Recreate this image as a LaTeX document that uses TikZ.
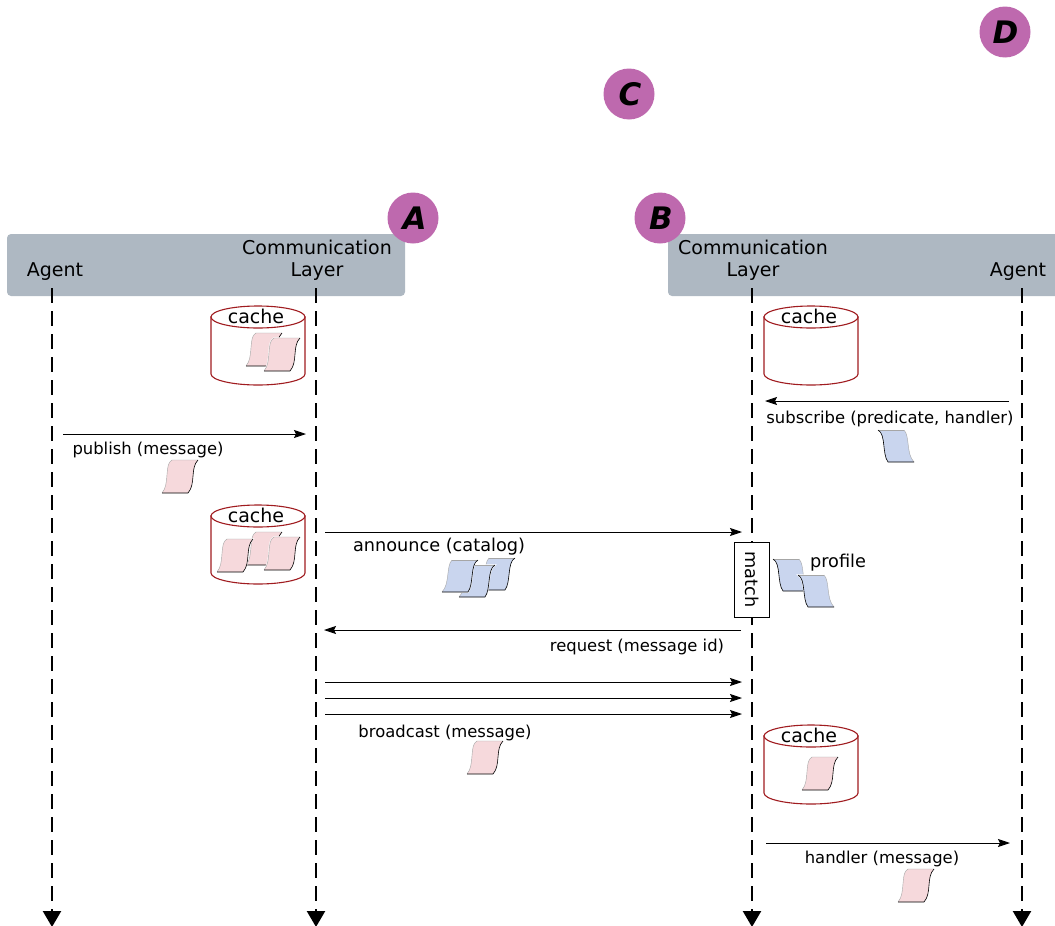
\documentclass[tikz,border=0pt]{standalone}
\usepackage{fontspec}
\setmainfont{DejaVu Sans}
\usetikzlibrary{arrows.meta}
\definecolor{bandc}{HTML}{AEB8C2}
\definecolor{badgec}{HTML}{BE69AE}
\definecolor{pinkc}{HTML}{F6D9DC}
\definecolor{bluec}{HTML}{C9D5EE}
\definecolor{cachec}{HTML}{A01C20}
\tikzset{
 lifeline/.style={line width=2.4pt,dash pattern=on 15pt off 8pt,-{Triangle[length=16pt,width=18pt]}},
 msg/.style={line width=0.9pt,-{Stealth[length=12pt,width=8pt,inset=2pt]}},
 lbl/.style={font=\fontsize{16.4}{18}\selectfont,inner sep=0pt},
 bigl/.style={font=\fontsize{17.7}{18}\selectfont,inner sep=0pt},
 hdr/.style={font=\fontsize{19}{20}\selectfont,inner sep=0pt},
 badge/.style={circle,fill=badgec,minimum size=51pt,inner sep=0pt,font=\fontsize{31}{32}\selectfont\bfseries\itshape},
 band/.style={fill=bandc,rounded corners=4pt},
 cyl/.style={draw=cachec,line width=1.1pt,fill=white}
}
\newcommand{\pinkpage}[2]{%
 \begin{scope}[shift={(#1,#2)},x=1pt,y=-1pt]
  \path[fill=white,draw=white,line width=1.5pt] (10,0) .. controls (2,4) and (8,24) .. (0,33) -- (26,33) .. controls (34,24) and (28,8) .. (36,0) -- cycle;
  \path[fill=pinkc] (10,0) .. controls (2,4) and (8,24) .. (0,33) -- (26,33) .. controls (34,24) and (28,8) .. (36,0) -- cycle;
  \draw[gray!70,line width=0.4pt] (36,0) -- (10,0) .. controls (2,4) and (8,24) .. (0,33);
  \draw[black,line width=0.6pt] (0,33) -- (26,33) .. controls (34,24) and (28,8) .. (36,0);
 \end{scope}}
\newcommand{\bluepage}[2]{%
 \begin{scope}[shift={(#1,#2)},x=1pt,y=-1pt]
  \path[fill=white,draw=white,line width=1.5pt] (0,0) .. controls (8,4) and (4,24) .. (10,32) -- (36,32) .. controls (28,24) and (32,6) .. (26,0) -- cycle;
  \path[fill=bluec] (0,0) .. controls (8,4) and (4,24) .. (10,32) -- (36,32) .. controls (28,24) and (32,6) .. (26,0) -- cycle;
  \draw[gray!70,line width=0.4pt] (26,0) -- (0,0);
  \draw[gray!70,line width=0.4pt] (36,32) .. controls (28,24) and (32,6) .. (26,0);
  \draw[black,line width=0.6pt] (0,0) .. controls (8,4) and (4,24) .. (10,32) -- (36,32);
 \end{scope}}
\newcommand{\cachecyl}[3]{%
 \begin{scope}[shift={(#1,#2)}]
 \path[cyl] (-47,11) -- (-47,68) .. controls (-47,74) and (-26,79) .. (0,79) .. controls (26,79) and (47,74) .. (47,68) -- (47,11) -- cycle;
 \draw[cyl] (0,11) ellipse[x radius=47,y radius=11];
 \node[hdr] (#3) at (-2,10) {cache};
 \end{scope}}
\begin{document}
\begin{tikzpicture}[x=1pt,y=-1pt]
\useasboundingbox (0,0) rectangle (1055,926);
\clip (0,0) rectangle (1055,926);
% bands
\path[band] (7,234) rectangle (405,296);
\path[band] (668,234) rectangle (1070,296);
% badges
\node[badge,text depth=0pt] (A) at (413,218) {\kern3pt A};
\node[badge,text depth=0pt] (B) at (660,218) {\kern2pt B};
\node[badge,text depth=0pt] (C) at (629,94) {\kern2pt C};
\node[badge,text depth=0pt] (D) at (1005,32) {\kern1pt D};
% header text
\node[hdr] (agentL) at (55,272) {Agent};
\node[hdr] (commL) at (317,247.5) {Communication};
\node[hdr] (layerL) at (317,272) {Layer};
\node[hdr] (commR) at (753,247.5) {Communication};
\node[hdr] (layerR) at (753,272) {Layer};
\node[hdr] (agentR) at (1018,272) {Agent};
% lifelines
\coordinate (l1t) at (52,288); \coordinate (l1b) at (52,927);
\coordinate (l2t) at (316,288); \coordinate (l2b) at (316,927);
\coordinate (l3t) at (752,288); \coordinate (l3b) at (752,927);
\coordinate (l4t) at (1022,288); \coordinate (l4b) at (1022,927);
\draw[lifeline] (l1t) -- (l1b);
\draw[lifeline] (l2t) -- (l2b);
\draw[lifeline] (l3t) -- (l3b);
\draw[lifeline] (l4t) -- (l4b);
% caches
\cachecyl{258}{306}{c1}
\cachecyl{258}{505}{c2}
\cachecyl{811}{306}{c3}
\cachecyl{811}{725}{c4}
\pinkpage{246}{333}\pinkpage{264}{338}
\pinkpage{246}{532}\pinkpage{217}{539}\pinkpage{264}{537}
\pinkpage{802}{757}
% messages
\coordinate (m1a) at (63,434); \coordinate (m1b) at (306,434);
\draw[msg] (m1a) -- (m1b);
\node[lbl] (t1) at (148,450) {publish (message)};
\pinkpage{162}{460}
\coordinate (m2a) at (1009,401); \coordinate (m2b) at (765,401);
\draw[msg] (m2a) -- (m2b);
\node[lbl] (t2) at (890,419) {subscribe (predicate, handler)};
\bluepage{878}{430}
\coordinate (m3a) at (325,532); \coordinate (m3b) at (742,532);
\draw[msg] (m3a) -- (m3b);
\node[bigl] (t3) at (439,546.5) {announce (catalog)};
\begin{scope}[xscale=-1,shift={(-957,0)}]
 \bluepage{442}{558}
 \bluepage{462}{565}
 \bluepage{479}{560}
\end{scope}
\node[draw,fill=white,line width=0.9pt,minimum width=75pt,minimum height=35pt,inner sep=0pt,rotate=-90,font=\fontsize{17.7}{18}\selectfont] (match) at (752,579.5) {match};
\bluepage{773}{559}
\bluepage{798}{575}
\node[bigl] (t4) at (838,563) {profile};
\coordinate (m4a) at (741,630); \coordinate (m4b) at (324,630);
\draw[msg] (m4a) -- (m4b);
\node[lbl] (t5) at (637,647) {request (message id)};
\foreach \yy/\nn in {682/a,698/b,714/c}{
 \coordinate (b\nn1) at (325,\yy); \coordinate (b\nn2) at (742,\yy);
 \draw[msg] (b\nn1) -- (b\nn2);
}
\node[lbl] (t6) at (445,733) {broadcast (message)};
\pinkpage{467}{741}
\coordinate (m5a) at (766,843); \coordinate (m5b) at (1010,843);
\draw[msg] (m5a) -- (m5b);
\node[lbl] (t7) at (882,859) {handler (message)};
\pinkpage{898}{869}
\end{tikzpicture}
\end{document}
